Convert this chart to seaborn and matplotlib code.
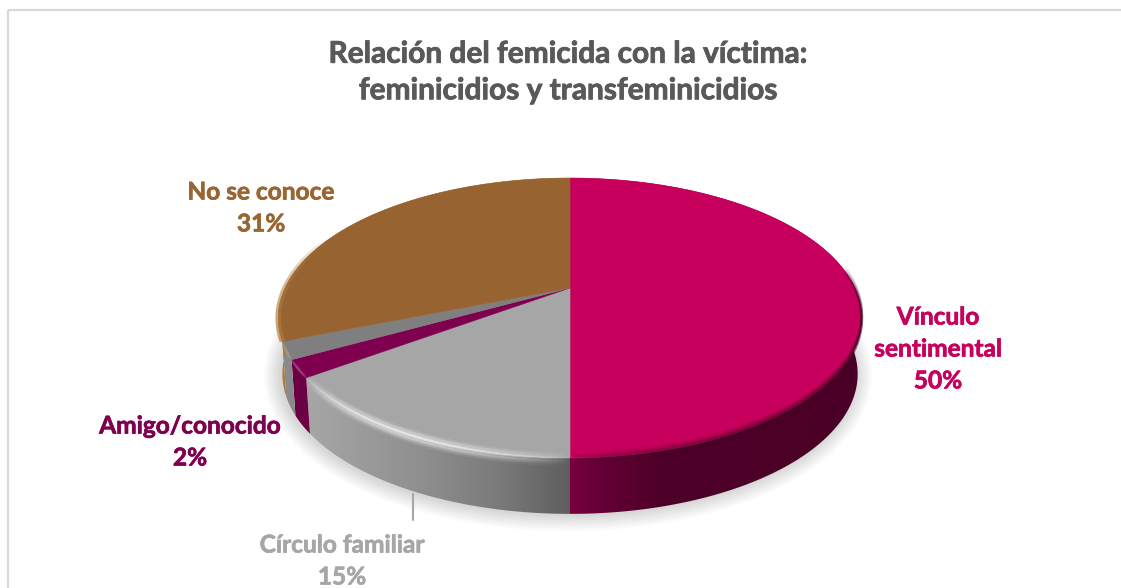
import numpy as np
import matplotlib
matplotlib.use("Agg")
import matplotlib.pyplot as plt
import matplotlib.patheffects as pe
import seaborn as sns
from matplotlib.collections import LineCollection
from matplotlib.colors import LinearSegmentedColormap, to_rgb
from matplotlib.patches import Polygon, Rectangle
from matplotlib.path import Path
from matplotlib.transforms import Transform

# Data
categories = ["Vínculo\nsentimental", "Círculo familiar", "Amigo/conocido", "", "No se conoce"]
values = [50, 15, 2, 2, 31]

colors = ["#C6005C", "#A6A6A6", "#800050", "#7F7F7F", "#976431"]
text_colors = ["#C6005C", "#A6A6A6", "#800050", None, "#996633"]
label_pos = [(938, 349), (342, 561), (190, 442), None, (261, 208)]

# wall gradients, (x pixel, colour)
wall_stops = [
    [(570, "#7A0040"), (600, "#650036"), (660, "#4E0028"), (862, "#4A0026")],
    [(300, "#A8A8A8"), (420, "#8F8F8F"), (500, "#7A7A7A"), (570, "#5E5E5E")],
    [(278, "#6C0044"), (862, "#6C0044")],
    [(278, "#8A8A8A"), (862, "#8A8A8A")],
    [(278, "#B07A3C"), (862, "#B07A3C")],
]

X0, X1 = 278, 862


class Persp(Transform):
    # tilted pie: unit circle to screen pixels
    input_dims = output_dims = 2

    def __init__(self, k=285.0, dy=0.0):
        super().__init__()
        self.k, self.dy = k, dy

    def transform_non_affine(self, pts):
        pts = np.asarray(pts, dtype=float)
        u, v = pts[:, 0], pts[:, 1]
        w = 1 + 0.214 * v
        return np.column_stack((570 + self.k * u / w, (288 - 71.9 * v) / w + self.dy))

    def transform_path_non_affine(self, path):
        pts = []
        for curve, code in path.iter_bezier():
            pts.append(curve.point_at_t(np.linspace(0, 1, 30)))
        return Path(self.transform_non_affine(np.vstack(pts)), closed=False)


def arc(t1, t2, n=200):
    t = np.radians(np.linspace(t1, t2, n))
    return np.column_stack((np.cos(t), np.sin(t)))


sns.set_theme(style="white")
plt.rcParams["font.family"] = ["Lato", "DejaVu Sans"]
plt.rcParams["font.weight"] = "bold"

fig = plt.figure(figsize=(11.21, 5.88), dpi=100)
ax = fig.add_axes([0, 0, 1, 1])

wedges, _ = ax.pie(values, colors=sns.color_palette(colors), startangle=90, counterclock=False,
                   wedgeprops={"linewidth": 0.4, "zorder": 5})
top = Persp()
bottom = Persp(k=281, dy=56)
for w, c in zip(wedges, colors):
    w.set_edgecolor(c)
    w.set_transform(top + ax.transData)

ax.set_aspect("auto")

# side walls, clipped gradients
grad = np.linspace(X0, X1, 600)[None, :]
for w, stops in zip(wedges, wall_stops):
    a = arc(w.theta1, w.theta2)
    poly = np.vstack((top.transform_non_affine(a), bottom.transform_non_affine(a[::-1])))
    clip = Polygon(poly, closed=True, facecolor="none", edgecolor="none")
    ax.add_patch(clip)
    pos = [(x - X0) / (X1 - X0) for x, c in stops]
    cols = [c for x, c in stops]
    if pos[0] > 0:
        pos, cols = [0] + pos, [cols[0]] + cols
    if pos[-1] < 1:
        pos, cols = pos + [1], cols + [cols[-1]]
    cmap = LinearSegmentedColormap.from_list("wall", list(zip(pos, cols)))
    im = ax.imshow(grad, cmap=cmap, extent=(X0, X1, 520, 170), aspect="auto", zorder=3,
                   vmin=X0, vmax=X1)
    im.set_clip_path(clip)

# soft shadow under the pie
rim = bottom.transform_non_affine(arc(0, 360, 400))
for lw in np.arange(2, 26, 3):
    ax.plot(rim[:, 0] - 2, rim[:, 1] + 1, color="black", alpha=0.018, lw=lw, zorder=1,
            solid_capstyle="round")


# bevel on the rim: light over the greys, dark over the pink
def rim_glow(t1, t2, color, peak, offsets, one_sided=False):
    a = arc(t1, t2, 160)
    end = np.pi / 2 if one_sided else np.pi
    fade = np.sin(np.linspace(0, end, 159)) ** peak
    rgb = to_rgb(color)
    for off, s, lw in offsets:
        pts = top.transform_non_affine(a) + [0, off]
        segs = np.stack((pts[:-1], pts[1:]), axis=1)
        lc = LineCollection(segs, colors=[(*rgb, f * s) for f in fade], linewidths=lw, zorder=6,
                            capstyle="butt")
        ax.add_collection(lc)


soft = [(-4, 0.14, 3), (-2, 0.3, 3), (0, 0.55, 2), (2, 0.4, 3), (4, 0.22, 3), (6, 0.1, 3)]
rim_glow(wedges[1].theta1, wedges[1].theta2, "white", 0.7, soft)
rim_glow(wedges[2].theta1, wedges[2].theta2, "white", 0.5, [(0, 0.25, 2)])
rim_glow(wedges[3].theta1, wedges[3].theta2, "white", 0.5, [(0, 0.2, 2)])
# pink only darkens along the front of the rim
rim_glow(-90, 8, "#3A001E", 0.4, [(-5, 0.1, 2), (-3, 0.25, 2), (-1, 0.45, 2), (1, 0.5, 2)])
# lighter brown lip on the left edge
rim_glow(wedges[4].theta2 - 45, wedges[4].theta2, "#B07A3C", 1.0, [(0, 0.85, 4)], one_sided=True)

# leader line and frame
ax.plot([413, 413], [494, 520], color="#A6A6A6", lw=1.5, zorder=2)
ax.add_patch(Rectangle((8, 10), 1125, 600, facecolor="none", edgecolor="#D9D9D9", lw=1.6, zorder=0,
                       clip_on=True))

for cat, val, col, pos in zip(categories, values, text_colors, label_pos):
    if pos is None:
        continue
    ax.text(pos[0], pos[1], f"{cat}\n{val}%", color=col, fontsize=17.6, ha="center", va="center",
            linespacing=1.47, zorder=8, path_effects=[pe.withStroke(linewidth=0.5, foreground=col)])

ax.text(568, 72, "Relación del femicida con la víctima:\nfeminicidios y transfeminicidios", color="#595959",
        fontsize=21.5, ha="center", va="center", linespacing=1.37, zorder=8,
        path_effects=[pe.withStroke(linewidth=0.6, foreground="#595959")])

ax.set_xlim(0, 1121)
ax.set_ylim(588, 0)
ax.axis("off")
fig.savefig("out.png", dpi=100, facecolor="white")
